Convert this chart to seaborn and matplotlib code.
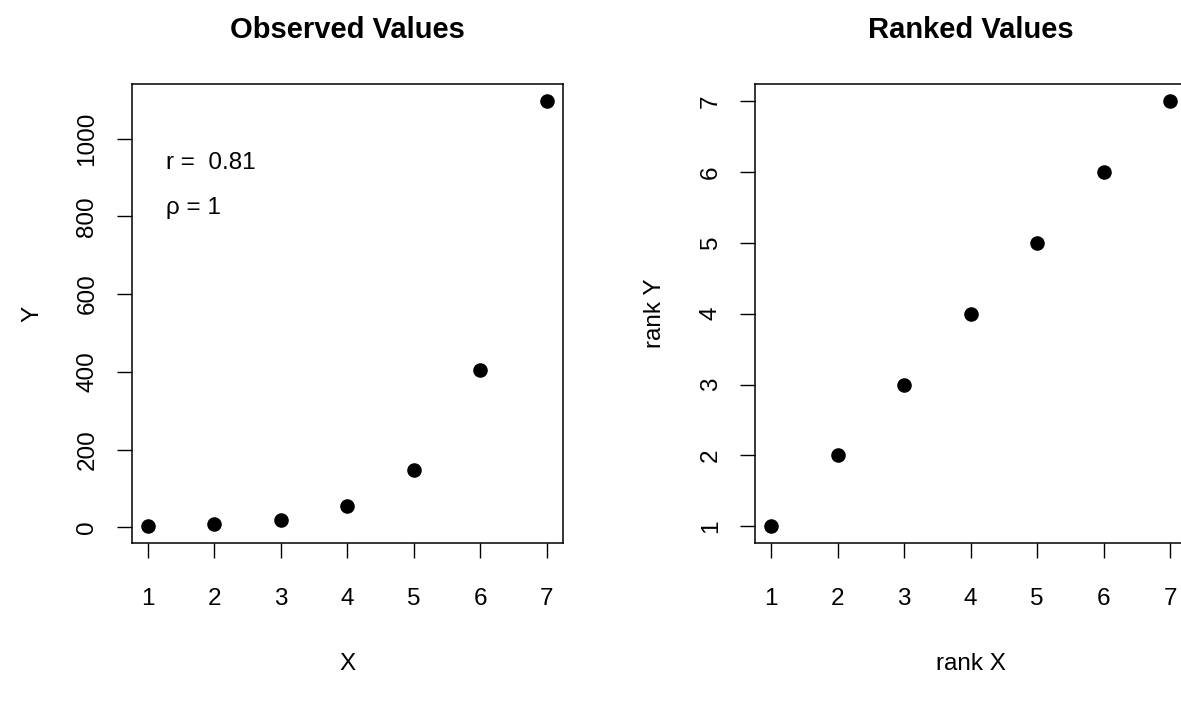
import numpy as np
import pandas as pd
import matplotlib
matplotlib.use("Agg")
import matplotlib.pyplot as plt
import seaborn as sns

# observed data (Y grows roughly exponentially with X)
x_vals = [1, 2, 3, 4, 5, 6, 7]
y_vals = [2.72, 7.39, 20.09, 54.60, 148.41, 403.43, 1096.63]
# ranks of the observed data
rank_x = [1, 2, 3, 4, 5, 6, 7]
rank_y = [1, 2, 3, 4, 5, 6, 7]

y_ticks_left = [0, 200, 400, 600, 800, 1000]
y_ticks_right = [1, 2, 3, 4, 5, 6, 7]
x_ticks = [1, 2, 3, 4, 5, 6, 7]

r_text = "r =  0.81"
rho_text = "\u03c1 = 1"

sns.set_style("white")
plt.rcParams['font.family'] = ['Liberation Sans', 'DejaVu Sans']
plt.rcParams['text.color'] = 'black'
plt.rcParams['axes.labelcolor'] = 'black'
plt.rcParams['axes.titlecolor'] = 'black'

obs = pd.DataFrame({"X": x_vals, "Y": y_vals})
ranked = pd.DataFrame({"rank X": rank_x, "rank Y": rank_y})

fig = plt.figure(figsize=(11.81, 7.02), dpi=100)
ax1 = fig.add_axes([0.1115, 0.2261, 0.365, 0.6543])
ax2 = fig.add_axes([0.6393, 0.2261, 0.365, 0.6543])

fs = 17.5

def r_style(ax, xdata, ydata, yticks, title, xlabel, ylabel):
    lo, hi = min(xdata), max(xdata)
    pad = (hi - lo) * 0.04
    ax.set_xlim(lo - pad, hi + pad)
    lo, hi = min(ydata), max(ydata)
    pad = (hi - lo) * 0.04
    ax.set_ylim(lo - pad, hi + pad)
    ax.set_xticks(x_ticks)
    ax.set_yticks(yticks)
    for s in ax.spines.values():
        s.set_visible(True)
        s.set_color("black")
        s.set_linewidth(1.1)
    ax.tick_params(axis="both", direction="out", length=11, width=1.0,
                   color="black", labelsize=fs, labelcolor="black",
                   left=True, bottom=True)
    ax.tick_params(axis="x", pad=21)
    ax.tick_params(axis="y", pad=13)
    for lab in ax.get_yticklabels():
        lab.set_rotation(90)
        lab.set_va("center")
        lab.set_ha("right")
    ax.set_title(title, fontsize=21, fontweight="bold", pad=33, color="black")
    ax.set_xlabel(xlabel, fontsize=fs, labelpad=31)
    ax.set_ylabel(ylabel, fontsize=fs, labelpad=24)
    ax.grid(False)

sns.scatterplot(data=obs, x="X", y="Y", ax=ax1, color="black", s=110,
                edgecolor="black", linewidth=0)
r_style(ax1, x_vals, y_vals, y_ticks_left, "Observed Values", "X", "Y")
ax1.text(1.28, 937, r_text, fontsize=fs, va="center", ha="left")
ax1.text(1.28, 821, rho_text, fontsize=fs, va="center", ha="left")

sns.scatterplot(data=ranked, x="rank X", y="rank Y", ax=ax2, color="black",
                s=110, edgecolor="black", linewidth=0)
r_style(ax2, rank_x, rank_y, y_ticks_right, "Ranked Values", "rank X", "rank Y")

fig.savefig("out.png", dpi=100)
